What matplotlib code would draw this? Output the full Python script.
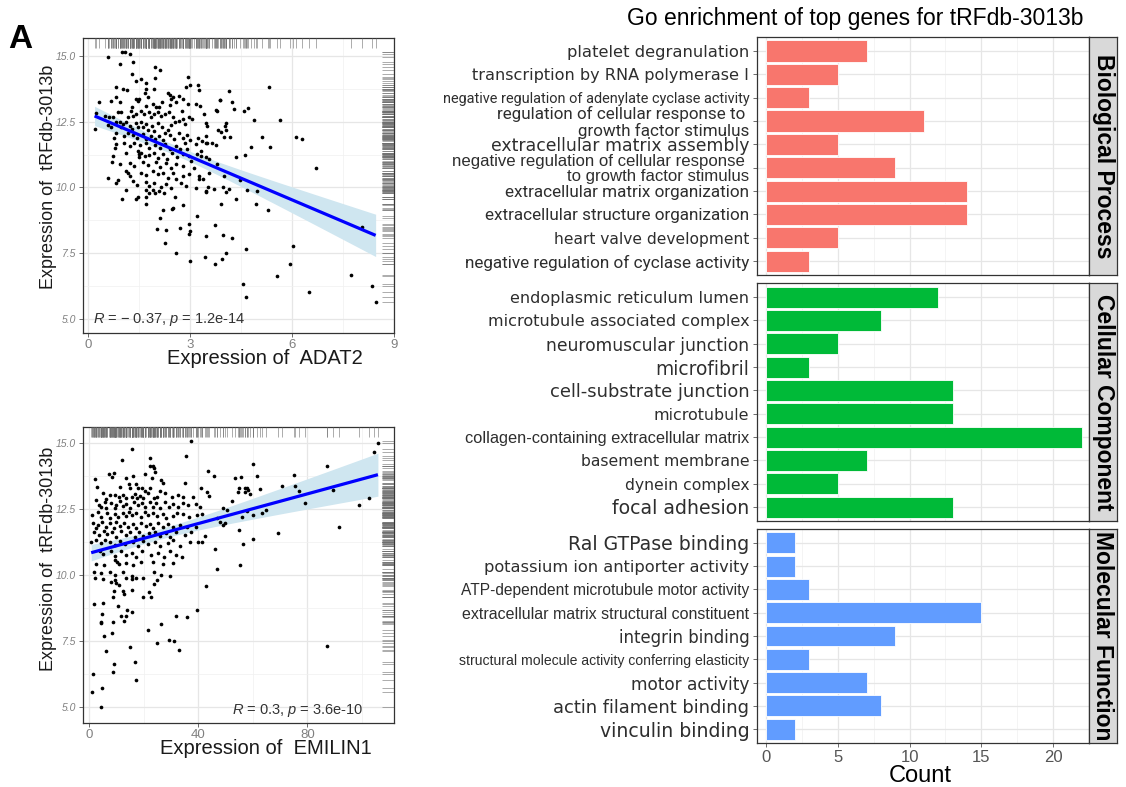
import numpy as np
import matplotlib
matplotlib.use('Agg')
import matplotlib.pyplot as plt
from matplotlib.transforms import blended_transform_factory as btf

plt.rcParams['font.family'] = ['Liberation Sans', 'DejaVu Sans']
plt.rcParams['mathtext.fontset'] = 'custom'
plt.rcParams['mathtext.rm'] = 'Liberation Sans'
plt.rcParams['mathtext.it'] = 'Liberation Sans:italic'

# ---------------- data: scatter 1 (ADAT2 vs tRFdb-3013b) ----------------
adat2_pts = [
    (0.6,14.97),(1.0,15.13),(1.1,15.15),(1.22,15.06),(0.95,14.68),(1.32,14.77),(1.98,14.56),(2.11,14.46),
    (1.3,14.3),(1.41,14.05),(1.57,14.14),(1.71,13.96),(1.98,14.16),(2.93,14.21),
    (0.83,13.8),(1.02,13.76),(1.15,13.71),(1.69,13.76),(1.68,13.58),(1.93,13.73),(2.88,13.8),(3.0,13.88),
    (3.22,13.88),(3.25,13.71),(0.81,13.42),(0.68,13.29),(0.32,13.26),(0.93,13.25),(1.41,13.35),(1.51,13.35),
    (1.46,13.29),(1.75,13.45),(1.71,13.1),(1.9,13.16),(1.99,13.07),(2.17,13.25),(2.1,13.04),(2.34,13.58),
    (2.41,13.5),(2.44,13.35),(2.5,13.42),(2.66,13.48),(2.78,13.38),(2.41,13.14),(2.58,13.23),(2.95,13.16),
    (3.17,13.16),(3.28,13.1),(2.76,12.91),(3.87,13.31),(4.24,13.25),(4.29,13.0),(3.78,12.91),
    (0.49,12.72),(0.61,12.66),(0.24,12.82),(0.88,12.87),(0.97,12.85),(1.3,13.04),(1.25,12.91),(1.17,12.66),
    (1.32,12.72),(1.41,12.78),(1.56,12.91),(1.63,12.78),(1.8,12.85),(1.85,12.69),(1.95,12.78),(2.05,12.87),
    (2.14,12.72),(2.27,12.78),(2.39,12.85),(2.5,12.66),(2.56,12.47),(2.44,12.36),(2.68,12.53),(2.78,12.62),
    (2.86,12.4),(2.97,12.69),(3.07,12.59),(3.46,12.44),(3.51,12.34),(4.06,12.44),(4.02,12.34),
    (0.19,12.21),(0.73,12.66),(0.83,12.49),(0.93,12.47),(1.02,12.4),(1.12,12.49),(0.97,12.28),(1.22,12.34),
    (1.3,12.21),(1.41,12.44),(1.46,12.28),(1.56,12.49),(1.61,12.31),(1.71,12.4),(1.75,12.19),(1.88,12.34),
    (1.95,12.15),(2.05,12.44),(2.17,12.28),(2.27,12.08),(2.34,12.19),(0.58,12.36),(0.68,12.28),(0.81,12.08),
    (0.75,11.89),(1.17,12.08),(1.07,11.96),(1.32,11.98),(1.43,11.89),(1.61,12.02),(1.71,11.86),(1.85,11.96),
    (1.98,11.83),(2.1,11.96),(2.19,11.81),(2.41,11.98),(2.53,11.83),(2.68,12.06),(2.78,11.89),(2.92,11.98),
    (2.99,11.81),(3.22,11.89),(3.36,11.77),(3.46,11.96),(3.65,11.7),
    (0.83,11.64),(0.78,11.51),(1.07,11.7),(1.22,11.58),(1.36,11.7),(1.53,11.6),(1.71,11.68),(1.8,11.51),
    (1.98,11.6),(2.11,11.51),(2.27,11.64),(2.41,11.48),(2.58,11.58),(2.7,11.45),(2.85,11.68),(2.92,11.48),
    (3.17,11.64),(3.31,11.39),(3.46,11.7),(3.75,11.6),
    (0.73,11.2),(1.12,11.32),(1.46,11.39),(1.51,11.26),(1.56,11.32),(1.49,11.17),(1.66,11.2),(1.8,11.22),
    (1.95,11.3),(2.05,11.13),(2.19,11.26),(2.31,11.1),(2.46,11.3),(2.63,11.17),(2.78,11.26),(2.97,11.2),
    (3.19,11.26),(3.56,11.1),
    (0.71,10.97),(0.93,10.88),(1.22,10.94),(1.34,10.82),(1.61,10.97),(1.75,10.84),(2.0,10.97),(2.11,10.79),
    (2.29,10.94),(2.44,10.75),(2.58,10.88),(2.78,10.82),(3.02,11.01),(3.12,10.75),
    (1.12,10.63),(1.17,10.54),(1.22,10.44),(1.56,10.56),(1.69,10.46),(1.9,10.63),(2.05,10.5),(2.21,10.56),
    (2.34,10.37),(2.49,10.54),(2.6,10.31),(2.78,10.44),(2.97,10.5),(3.25,10.44),(3.38,10.31),(3.56,10.56),
    (3.99,10.44),(0.58,10.37),(0.83,10.18),(0.88,10.29),(1.32,10.25),(1.43,10.08),(1.71,10.21),(1.8,10.06),
    (1.95,10.18),(2.14,10.03),(2.29,10.12),(2.44,9.99),(2.73,10.18),(2.88,10.06),
    (1.71,9.9),(1.78,9.8),(1.9,9.9),(1.98,9.78),(2.1,9.87),(2.24,9.8),(1.12,9.89),(3.17,9.99),(3.46,9.87),
    (4.14,9.93),(4.06,9.83),
    (1.0,9.55),(1.41,9.55),(1.46,9.63),(1.71,9.63),(1.71,9.37),(2.55,9.63),(2.78,9.33),(2.5,9.21),(2.46,9.17),
    (2.19,9.14),(3.2,8.92),(2.12,8.83),(2.97,8.61),(2.99,8.36),(2.97,8.23),(2.02,8.41),(2.29,8.38),(2.71,8.45),
    (3.46,8.15),(3.73,8.57),(3.97,8.19),(4.24,8.07),(3.91,9.37),(4.34,9.58),(3.48,9.84),(2.25,7.9),(2.58,7.5),
    (2.99,7.22),(3.44,7.37),(3.72,7.11),(3.95,7.27),(4.05,7.5),
    (4.15,13.68),(3.89,13.33),(3.4,12.8),(3.76,12.94),(3.81,12.18),(3.91,12.12),(4.06,12.18),(4.01,11.93),
    (4.18,11.9),(3.49,11.7),(3.33,11.19),(3.47,11.17),(3.79,10.91),(4.35,11.14),(3.26,10.34),(3.7,9.96),
    (3.52,10.03),(3.96,10.03),
    (5.32,13.82),(4.6,12.9),(4.7,13.02),(4.88,12.55),(5.64,12.55),(5.13,11.9),(4.79,11.55),(5.35,11.53),
    (6.12,11.9),(6.29,11.83),(4.62,11.24),(6.7,10.75),(4.47,10.27),(4.67,9.9),(4.96,9.86),(4.93,9.36),
    (5.3,9.16),(8.07,8.49),(4.64,7.67),(6.03,7.78),(5.94,7.09),(5.55,6.64),(7.74,6.68),(4.55,6.34),
    (4.64,5.85),(6.51,6.04),(8.34,6.24),(8.46,5.66),
]
adat2_x = [p[0] for p in adat2_pts]
adat2_y = [p[1] for p in adat2_pts]

# ---------------- data: scatter 2 (EMILIN1 vs tRFdb-3013b) ----------------
emilin1_pts = [
    (37.5,15.06),(15.8,14.75),(12.0,14.34),(22.2,14.4),(23.2,14.12),(23.8,14.05),(22.2,14.1),(24.0,13.9),
    (35.5,14.5),(43.7,13.93),(45.8,13.75),(7.2,13.8),(8.5,13.71),(8.96,13.84),(2.0,13.61),(13.3,13.65),
    (16.1,13.75),(20.4,13.8),(22.9,13.67),(26.5,13.59),(27.1,13.46),(2.8,13.33),(11.4,13.33),(14.6,13.42),
    (14.8,13.3),(17.1,13.42),(17.9,13.27),(19.5,13.3),(20.4,13.17),(22.2,13.27),(21.6,13.08),(26.1,13.17),
    (27.7,13.08),(35.1,13.46),(40.9,13.3),(43.1,13.14),(44.0,12.99),(5.0,13.08),(7.5,13.02),(6.3,12.87),
    (9.3,13.02),(10.9,12.95),(12.4,13.02),(13.6,12.92),(15.5,12.95),(16.7,13.04),(17.5,12.89),(18.5,12.99),
    (19.8,12.89),(23.7,12.92),(24.9,12.95),(30.2,12.95),(32.6,13.02),(34.5,12.95),(38.2,12.95),
    (2.6,12.83),(3.6,12.64),(5.6,12.74),(4.4,12.58),(6.0,12.51),(8.1,12.7),(9.9,12.64),(9.3,12.51),
    (11.4,12.79),(12.2,12.61),(13.4,12.66),(14.8,12.54),(16.3,12.74),(17.9,12.64),(19.5,12.7),(20.6,12.58),
    (22.2,12.77),(23.2,12.58),(24.4,12.7),(25.9,12.54),(27.7,12.74),(29.3,12.58),(30.8,12.66),(32.4,12.58),
    (34.5,12.7),(36.3,12.64),(39.1,12.66),(40.6,12.58),
    (1.1,12.26),(3.2,12.36),(4.4,12.2),(6.5,12.32),(7.5,12.16),(9.3,12.29),(10.6,12.2),(12.2,12.32),
    (13.4,12.23),(14.6,12.36),(15.5,12.26),(17.3,12.32),(18.8,12.2),(20.4,12.36),(21.6,12.26),(23.2,12.32),
    (24.9,12.23),(26.9,12.29),(28.3,12.16),(30.6,12.23),(32.3,12.32),(34.5,12.29),(36.7,12.2),(39.4,12.26),
    (41.2,12.29),(49.2,12.51),(50.7,12.45),
    (1.3,11.94),(3.2,11.88),(2.6,11.76),(4.8,11.98),(6.0,11.82),(7.5,11.94),(9.0,11.78),(9.9,12.01),
    (11.4,11.86),(12.6,11.94),(14.2,11.82),(16.1,11.91),(17.3,11.76),(19.1,11.94),(20.7,11.86),(22.2,11.91),
    (23.4,11.78),(25.3,11.94),(26.9,11.82),(29.0,11.91),(30.6,11.82),(33.3,11.88),(35.9,11.82),(39.1,11.82),
    (46.8,12.13),(48.0,12.01),(48.9,11.88),(49.8,11.94),
    (1.6,11.63),(3.6,11.5),(5.3,11.65),(6.5,11.53),(8.5,11.6),(9.9,11.44),(11.8,11.65),(13.4,11.5),
    (15.1,11.6),(16.7,11.44),(18.3,11.63),(19.8,11.48),(22.0,11.57),(24.0,11.63),(26.1,11.48),(28.1,11.57),
    (29.8,11.44),(32.0,11.6),(35.1,11.5),(37.5,11.6),(40.0,11.25),(41.2,11.22),(42.6,11.45),
    (0.7,11.25),(2.6,11.31),(4.4,11.19),(5.6,11.31),(7.5,11.22),(9.3,11.12),(11.2,11.28),(13.0,11.15),
    (16.1,11.22),(17.9,11.1),(19.8,11.28),(21.6,11.15),(24.0,11.22),(25.9,11.1),(29.0,11.19),(30.8,11.31),
    (33.3,11.1),(36.9,11.22),(46.1,10.97),
    (3.8,10.9),(5.0,10.77),(8.1,10.88),(9.3,10.72),(11.8,10.9),(13.6,10.74),(15.5,10.81),(17.3,10.68),
    (19.5,10.88),(22.8,10.74),(25.3,10.81),(27.4,10.68),(29.8,10.9),(31.8,10.74),(34.2,10.68),
    (2.6,10.39),(5.3,10.37),(9.3,10.56),(10.2,10.47),(10.9,10.39),(13.6,10.43),(16.1,10.37),(19.1,10.49),
    (23.4,10.47),(27.1,10.39),(30.6,10.43),(46.8,10.21),
    (1.6,10.11),(4.4,10.05),(7.5,10.11),(9.3,9.99),(12.4,10.11),(15.8,9.96),(23.7,10.11),(26.5,9.99),
    (29.6,9.96),(2.0,9.86),(5.0,9.84),(13.6,9.89),(15.5,9.84),(17.3,9.89),
    (8.1,9.71),(9.3,9.8),(9.9,9.67),(10.9,9.61),(19.8,9.89),(15.5,9.42),(12.3,9.38),(12.8,9.26),(9.1,9.38),
    (8.7,9.17),(22.0,9.36),(22.6,9.17),(19.8,9.17),(23.8,9.64),(24.7,9.81),(42.7,9.59),(1.6,8.88),(5.0,8.92),
    (10.6,8.83),(4.8,8.5),(4.3,8.22),(4.4,8.16),(8.7,8.2),(11.5,8.42),(13.6,8.45),(14.0,8.65),(15.8,8.58),
    (12.6,8.26),(8.2,7.81),(5.5,7.69),(21.6,7.92),(26.5,8.12),(31.8,8.45),(35.7,8.4),(39.4,8.65),(14.8,7.25),
    (24.8,7.41),(29.3,7.54),(31.2,7.49),(33.0,7.15),(6.0,7.11),(9.0,6.64),(8.7,6.33),(16.8,6.71),(17.1,6.03),
    (1.3,6.23),(1.1,5.57),(4.5,5.7),(4.4,5.0),
    (105.9,14.97),(104.3,14.63),(87.4,14.13),(59.9,14.18),(53.6,13.67),(55.5,13.69),(61.4,13.74),(75.1,13.78),
    (52.5,12.79),(54.7,13.12),(55.0,13.27),(57.3,13.27),(57.9,13.3),(58.2,13.21),(58.8,13.04),(57.3,13.14),
    (62.6,13.24),(70.7,13.37),(75.4,13.35),(77.0,13.18),(89.6,13.19),(79.0,12.7),(102.6,12.92),(98.8,12.64),
    (57.9,12.41),(64.9,12.44),(63.2,12.32),(56.0,12.18),(60.1,12.26),(54.9,11.68),(69.3,11.58),(91.7,11.82),
    (60.0,11.36),(56.5,11.16),(55.4,10.38),(87.4,7.32),
]
emilin1_x = [p[0] for p in emilin1_pts]
emilin1_y = [p[1] for p in emilin1_pts]

# ---------------- data: GO enrichment ----------------
bp_terms = ["platelet degranulation", "transcription by RNA polymerase I",
            "negative regulation of adenylate cyclase activity",
            "regulation of cellular response to \ngrowth factor stimulus",
            "extracellular matrix assembly",
            "negative regulation of cellular response \nto growth factor stimulus",
            "extracellular matrix organization", "extracellular structure organization",
            "heart valve development", "negative regulation of cyclase activity"]
bp_counts = [7, 5, 3, 11, 5, 9, 14, 14, 5, 3]

cc_terms = ["endoplasmic reticulum lumen", "microtubule associated complex", "neuromuscular junction",
            "microfibril", "cell-substrate junction", "microtubule",
            "collagen-containing extracellular matrix", "basement membrane", "dynein complex",
            "focal adhesion"]
cc_counts = [12, 8, 5, 3, 13, 13, 22, 7, 5, 13]

mf_terms = ["Ral GTPase binding", "potassium ion antiporter activity",
            "ATP-dependent microtubule motor activity", "extracellular matrix structural constituent",
            "integrin binding", "structural molecule activity conferring elasticity", "motor activity",
            "actin filament binding", "vinculin binding"]
mf_counts = [2, 2, 3, 15, 9, 3, 7, 8, 2]

count_ticks = [0, 5, 10, 15, 20]

# ---------------- style (label widths in px, as drawn in the reference) ----------------
bp_label_w = [182, 276, 308, 253, 257, 297, 244, 265, 196, 286]
cc_label_w = [238, 262, 202, 94, 199, 95, 285, 169, 124, 145]
mf_label_w = [198, 267, 290, 289, 131, 291, 120, 197, 169]
LABEL_TARGET_PT = 12.0
LABEL_MAX_PT = 13.0
LABEL_FAMILIES = ['DejaVu Sans', 'Liberation Sans', 'Roboto']

W, H = 1126, 787
fig = plt.figure(figsize=(W / 100, H / 100), dpi=100)


def px_axes(l, t, r, b):
    return fig.add_axes([l / W, 1 - b / H, (r - l) / W, (b - t) / H])


def ftext(x, y, s, **kw):
    return fig.text(x / W, 1 - y / H, s, **kw)


def scatter_panel(ax, x, y, xlim, ylim, xticks, xminor, yticks, yminor):
    x = np.asarray(x, float)
    y = np.asarray(y, float)
    ax.set_xlim(xlim)
    ax.set_ylim(ylim)
    ax.set_xticks(xticks)
    ax.set_xticks(xminor, minor=True)
    ax.set_yticks(yticks)
    ax.set_yticks(yminor, minor=True)
    ax.set_yticklabels([f"{v:.1f}" for v in yticks])
    ax.grid(which='major', color='#E6E6E6', lw=0.9)
    ax.grid(which='minor', color='#F0F0F0', lw=0.5)
    ax.set_axisbelow(True)
    for s in ax.spines.values():
        s.set_color('#333333')
        s.set_linewidth(0.9)
    ax.tick_params(which='major', length=3, width=0.6, color='#555555')
    ax.tick_params(which='minor', length=0)
    ax.tick_params(axis='y', labelsize=7.5, labelcolor='#808080', pad=2)
    ax.tick_params(axis='x', labelsize=9.5, labelcolor='#808080', pad=1)
    for t in ax.get_yticklabels():
        t.set_fontstyle('italic')
    # linear fit with 95% CI (geom_smooth(method = "lm"))
    n = len(x)
    b, a = np.polyfit(x, y, 1)
    xs = np.linspace(x.min(), x.max(), 100)
    yhat = a + b * xs
    resid = y - (a + b * x)
    s = np.sqrt(np.sum(resid ** 2) / (n - 2))
    sxx = np.sum((x - x.mean()) ** 2)
    se = s * np.sqrt(1.0 / n + (xs - x.mean()) ** 2 / sxx)
    ax.fill_between(xs, yhat - 1.968 * se, yhat + 1.968 * se, color='#CFE6F0', lw=0, zorder=2)
    ax.scatter(x, y, s=7, c='black', lw=0, zorder=3)
    ax.plot(xs, yhat, color='#0000FF', lw=2.3, zorder=4, solid_capstyle='butt')
    # rugs (top and right)
    ax.vlines(x, 0.965, 1.0, transform=btf(ax.transData, ax.transAxes),
              color='#6E6E6E', lw=0.5, alpha=0.8, zorder=5)
    ax.hlines(y, 0.962, 1.0, transform=btf(ax.transAxes, ax.transData),
              color='#6E6E6E', lw=0.5, alpha=0.8, zorder=5)


# ---- scatter 1
ax1 = px_axes(83, 38, 394, 333)
scatter_panel(ax1, adat2_x, adat2_y, (-0.15, 9.0), (4.47, 15.68),
              [0, 3, 6, 9], [1.5, 4.5, 7.5], [5, 7.5, 10, 12.5, 15], [6.25, 8.75, 11.25, 13.75])
ax1.text(0.15, 4.98, '$\\mathit{R}$ = \u2212 0.37, $\\mathit{p}$ = 1.2e-14', fontsize=10.5,
         color='#333333', ha='left', va='center', zorder=6)
ftext(265, 358, "Expression of  ADAT2", fontsize=14.5, ha='center', va='center', color='#1A1A1A')
ftext(49, 177, "Expression of  tRFdb-3013b", fontsize=13, rotation=90, ha='center', va='center',
      color='#1A1A1A')

# ---- scatter 2
ax2 = px_axes(83, 427, 394, 723)
scatter_panel(ax2, emilin1_x, emilin1_y, (-2.3, 111.8), (4.39, 15.59),
              [0, 40, 80], [20, 60, 100], [5, 7.5, 10, 12.5, 15], [6.25, 8.75, 11.25, 13.75])
ax2.text(52.4, 4.86, '$\\mathit{R}$ = 0.3, $\\mathit{p}$ = 3.6e-10', fontsize=10.5,
         color='#333333', ha='left', va='center', zorder=6)
ftext(266, 749, "Expression of  EMILIN1", fontsize=14.5, ha='center', va='center', color='#1A1A1A')
ftext(49, 559, "Expression of  tRFdb-3013b", fontsize=13, rotation=90, ha='center', va='center',
      color='#1A1A1A')

ftext(8, 40, "A", fontsize=24, fontweight='bold', ha='left', va='center')

# ---------------- GO bar panels ----------------
ftext(855, 18, "Go enrichment of top genes for tRFdb-3013b", fontsize=16.5, ha='center', va='center')

panels = [
    (bp_terms, bp_counts, '#F8766D', 'Biological Process', bp_label_w, 37, 275),
    (cc_terms, cc_counts, '#00BA38', 'Cellular Component', cc_label_w, 283, 521),
    (mf_terms, mf_counts, '#619CFF', 'Molecular Function', mf_label_w, 529, 743),
]
bar_axes = []
for i, (terms, counts, col, strip, widths, top, bot) in enumerate(panels):
    ax = px_axes(757, top, 1089, bot)
    n = len(terms)
    ypos = np.arange(n)[::-1]
    ax.barh(ypos, counts, height=0.9, color=col, edgecolor='#FFFFFF', linewidth=0.6, zorder=2)
    ax.set_ylim(-0.6, n - 0.4)
    ax.set_xlim(-0.63, 22.4)
    ax.set_yticks(ypos)
    ax.set_yticklabels(terms)
    ax.set_xticks(count_ticks)
    ax.set_xticks([2.5, 7.5, 12.5, 17.5, 22.5], minor=True)
    ax.grid(which='major', color='#E6E6E6', lw=0.9)
    ax.grid(which='minor', axis='x', color='#F0F0F0', lw=0.5)
    ax.set_axisbelow(True)
    for s in ax.spines.values():
        s.set_color('#333333')
        s.set_linewidth(0.9)
    ax.tick_params(which='major', length=3, width=0.6, color='#555555')
    ax.tick_params(which='minor', length=0)
    ax.tick_params(axis='y', labelcolor='#2E2E2E', pad=2.5)
    ax.tick_params(axis='x', labelsize=12, labelcolor='#555555', pad=2)
    if i < 2:
        ax.tick_params(axis='x', labelbottom=False, length=0)
    bar_axes.append((ax, widths))
    # facet strip
    sax = px_axes(1089, top, 1117, bot)
    sax.set_facecolor('#D9D9D9')
    sax.set_xticks([])
    sax.set_yticks([])
    for s in sax.spines.values():
        s.set_color('#333333')
        s.set_linewidth(0.9)
    sax.text(0.5, 0.5, strip, rotation=-90, fontsize=16.5, fontweight='bold', ha='center', va='center',
             transform=sax.transAxes, color='black')

ftext(920, 776, "Count", fontsize=17, ha='center', va='center', color='black')

# fit the category labels to the widths they take in the reference,
# choosing the family whose fitted size is closest to a common text height
fig.canvas.draw()
renderer = fig.canvas.get_renderer()
for ax, widths in bar_axes:
    for t, w in zip(ax.get_yticklabels(), widths):
        best = None
        for fam in LABEL_FAMILIES:
            t.set_family([fam, 'DejaVu Sans'])
            t.set_fontsize(10)
            cur = t.get_window_extent(renderer).width
            fs = 10 * w / cur
            if best is None or abs(fs - LABEL_TARGET_PT) < abs(best[1] - LABEL_TARGET_PT):
                best = (fam, fs)
        t.set_family([best[0], 'DejaVu Sans'])
        t.set_fontsize(min(best[1], LABEL_MAX_PT) if best[0] != 'DejaVu Sans' or '\n' in t.get_text()
                       else min(best[1], LABEL_MAX_PT + 0.6))
        if '\n' in t.get_text():
            t.set_linespacing(1.0)

fig.savefig('out.png', dpi=100)
